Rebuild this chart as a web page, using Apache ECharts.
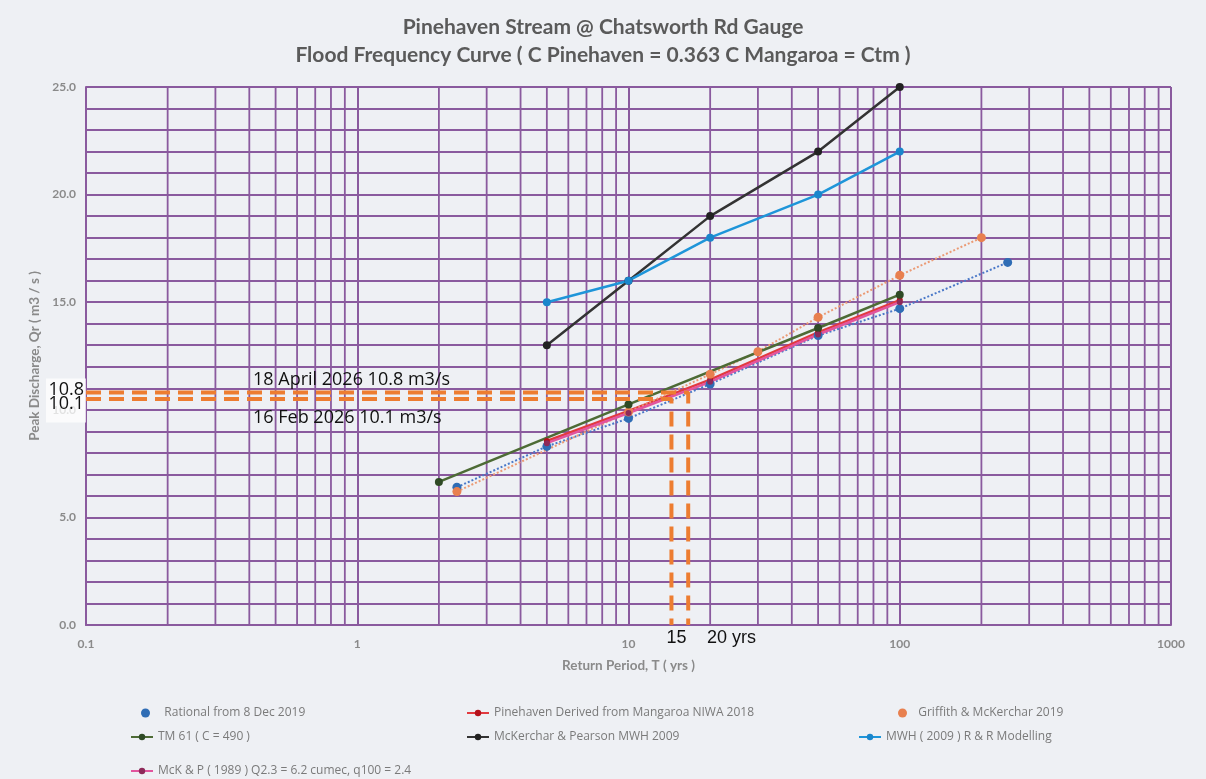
<!DOCTYPE html>
<html><head><meta charset="utf-8">
<script src="https://cdn.jsdelivr.net/npm/echarts@6/dist/echarts.min.js"></script>
<style>html,body{margin:0;padding:0;background:#eef0f4;} #c{width:1206px;height:779px;}</style>
</head><body><div id="c"></div>
<script>
// ---- data ----
const xTickLabels = ['0.1', '1', '10', '100', '1000'];
const yTickLabels = ['0.0', '5.0', '10.0', '15.0', '20.0', '25.0'];
const minorGridT = [0.2,0.3,0.4,0.5,0.6,0.7,0.8,0.9, 2,3,4,5,6,7,8,9, 20,30,40,50,60,70,80,90, 200,300,400,500,600,700,800,900];

const rationalT = [2.33, 5, 10, 20, 50, 100, 250];
const rationalQ = [6.4, 8.3, 9.6, 11.2, 13.45, 14.7, 16.85];

const pinehavenT = [5, 10, 20, 50, 100];
const pinehavenQ = [8.55, 9.95, 11.4, 13.6, 15.1];

const griffithT = [2.33, 10, 20, 30, 50, 100, 200];
const griffithQ = [6.2, 9.9, 11.65, 12.7, 14.3, 16.25, 18.0];

const tm61T = [2, 10, 50, 100];
const tm61Q = [6.65, 10.25, 13.8, 15.35];

const mckPearsonT = [5, 10, 20, 50, 100];
const mckPearsonQ = [13, 16, 19, 22, 25];

const mwhT = [5, 10, 20, 50, 100];
const mwhQ = [15, 16, 18, 20, 22];

const mckP1989T = [5, 10, 20, 50, 100];
const mckP1989Q = [8.45, 9.85, 11.3, 13.5, 15.0];

// annotation (hand-drawn overlay)
const aprilQ = 10.8, aprilT = 16.6;
const febQ = 10.5, febT = 14.4;

const names = {
  rational: 'Rational from 8 Dec 2019',
  pinehaven: 'Pinehaven Derived from Mangaroa NIWA 2018',
  griffith: 'Griffith & McKerchar 2019',
  tm61: 'TM 61 ( C = 490 )',
  mckPearson: 'McKerchar & Pearson MWH 2009',
  mwh: 'MWH ( 2009 ) R & R Modelling',
  mckP1989: 'McK & P ( 1989 ) Q2.3 = 6.2 cumec, q100 = 2.4'
};

const zip = (a, b) => a.map((v, i) => [v, b[i]]);

// ---- chart ----
const chart = echarts.init(document.getElementById('c'), null, {renderer: 'canvas'});
const PURPLE = '#8a5a9e';
const AX = '#8a8a8a';
const FONT = 'Lato';

function lineSeries(name, t, q, lineColor, markColor, opts) {
  return Object.assign({
    name, type: 'line', data: zip(t, q), z: 5, clip: false,
    symbol: 'circle', symbolSize: 8,
    lineStyle: {color: lineColor, width: 2.5},
    itemStyle: {color: markColor},
    emphasis: {disabled: true}
  }, opts || {});
}

const legendText = {color: '#7a7a7a', fontSize: 12, fontFamily: 'Open Sans'};
function lg(name, left, top, dotSpaces) {
  const l = {data: [name], left, top, textStyle: Object.assign({}, legendText), selectedMode: false, padding: 0, itemGap: 0};
  if (dotSpaces) {
    l.icon = 'circle'; l.itemWidth = 9; l.itemHeight = 9;
    const pad = ' '.repeat(dotSpaces);
    l.formatter = n => pad + n;
  } else { l.itemWidth = 22; l.itemHeight = 8; }
  return l;
}

const option = {
  backgroundColor: '#eef0f4',
  animation: false,
  title: {
    text: 'Pinehaven Stream @ Chatsworth Rd Gauge\nFlood Frequency Curve ( C Pinehaven = 0.363 C Mangaroa = Ctm )',
    left: 'center', top: 8,
    textStyle: {fontFamily: FONT, fontWeight: 'bold', fontSize: 21, color: '#5a5a5a', lineHeight: 28}
  },
  grid: {left: 86, right: 35, top: 87, bottom: 154},
  xAxis: {
    type: 'log', logBase: 10, min: 0.1, max: 1000,
    name: 'Return Period, T ( yrs )', nameLocation: 'middle', nameGap: 34,
    nameTextStyle: {color: AX, fontSize: 13.5, fontWeight: 'bold', fontFamily: FONT},
    axisLine: {show: true, lineStyle: {color: PURPLE, width: 2}},
    axisTick: {show: false},
    axisLabel: {
      color: AX, fontSize: 12, fontWeight: 'bold', fontFamily: FONT, margin: 13,
      formatter: v => { const f = xTickLabels.find(s => Math.abs(Number(s) - v) < 1e-9 * Math.max(1, v)); return f || ''; }
    },
    splitLine: {show: true, lineStyle: {color: PURPLE, width: 2}}
  },
  yAxis: {
    type: 'value', min: 0, max: 25, interval: 1,
    name: 'Peak Discharge, Qr ( m3 / s )', nameLocation: 'middle', nameGap: 42, nameRotate: 90,
    nameTextStyle: {color: AX, fontSize: 13.5, fontWeight: 'bold', fontFamily: FONT},
    axisLine: {show: true, lineStyle: {color: PURPLE, width: 2}},
    axisTick: {show: false},
    axisLabel: {
      color: AX, fontSize: 12, fontWeight: 'bold', fontFamily: FONT, margin: 10,
      formatter: v => yTickLabels.find(s => Math.abs(Number(s) - v) < 1e-9) || ''
    },
    splitLine: {show: true, lineStyle: {color: PURPLE, width: 1.8}}
  },
  legend: [
    lg(names.rational, 141, 707, 3),
    lg(names.pinehaven, 466, 707, 0),
    lg(names.griffith, 898, 707, 2),
    lg(names.tm61, 130, 731, 0),
    lg(names.mckPearson, 466, 731, 0),
    lg(names.mwh, 858, 731, 0),
    lg(names.mckP1989, 130, 765, 0)
  ],
  series: [
    {
      name: 'minorGrid', type: 'custom', z: 1, silent: true,
      data: minorGridT.map(t => [t]),
      renderItem: (params, api) => {
        const p0 = api.coord([api.value(0), 0]);
        const p1 = api.coord([api.value(0), 25]);
        return {type: 'line', shape: {x1: p0[0], y1: p0[1], x2: p1[0], y2: p1[1]},
          style: {stroke: PURPLE, lineWidth: 1.8}};
      }
    },
    lineSeries(names.rational, rationalT, rationalQ, '#4a78c8', '#2f6db5',
      {lineStyle: {color: '#4a78c8', width: 2, type: 'dotted'}, symbolSize: 9}),
    lineSeries(names.pinehaven, pinehavenT, pinehavenQ, '#e23a3f', '#b5121b', {symbolSize: 6}),
    lineSeries(names.griffith, griffithT, griffithQ, '#f0a07c', '#e8804f',
      {lineStyle: {color: '#eb9a74', width: 2, type: 'dotted'}, symbolSize: 9}),
    lineSeries(names.tm61, tm61T, tm61Q, '#4d6b35', '#2f4a25'),
    lineSeries(names.mckPearson, mckPearsonT, mckPearsonQ, '#333333', '#222222'),
    lineSeries(names.mwh, mwhT, mwhQ, '#1e95d9', '#1a86cc'),
    lineSeries(names.mckP1989, mckP1989T, mckP1989Q, '#e2559e', '#8e2a5a', {symbolSize: 6}),
    {
      name: 'april', type: 'line', z: 8, silent: true, symbol: 'none', clip: false,
      data: [[0.1, aprilQ], [aprilT, aprilQ], [aprilT, 0]],
      lineStyle: {color: '#ed7d31', width: 4, type: [15, 8], cap: 'butt'}
    },
    {
      name: 'feb', type: 'line', z: 8, silent: true, symbol: 'none', clip: false,
      data: [[0.1, febQ], [febT, febQ], [febT, 0]],
      lineStyle: {color: '#ed7d31', width: 4, type: [15, 8], cap: 'butt'}
    }
  ]
};
chart.setOption(option);

// overlay annotation texts positioned from data coords
const pA = chart.convertToPixel({gridIndex: 0}, [0.1, aprilQ]);
const pF = chart.convertToPixel({gridIndex: 0}, [0.1, febQ]);
const pAx = chart.convertToPixel({gridIndex: 0}, [febT, 0]);
const pBx = chart.convertToPixel({gridIndex: 0}, [aprilT, 0]);
const TF = '18px "Open Sans"';
chart.setOption({
  graphic: [
    {type: 'rect', z: 50, shape: {x: pA[0] - 40, y: pA[1] - 14, width: 40, height: 44}, style: {fill: '#ffffff', opacity: 0.75}},
    {type: 'text', z: 51, style: {text: '10.8', x: pA[0] - 2, y: pA[1] - 3, align: 'right', verticalAlign: 'middle', font: TF, fill: '#111'}},
    {type: 'text', z: 51, style: {text: '10.1', x: pA[0] - 2, y: pF[1] + 5, align: 'right', verticalAlign: 'middle', font: TF, fill: '#111'}},
    {type: 'text', z: 51, style: {text: '18 April 2026 10.8 m3/s', x: 253, y: pA[1] - 13, align: 'left', verticalAlign: 'middle', font: TF, fill: '#111'}},
    {type: 'text', z: 51, style: {text: '16 Feb 2026 10.1 m3/s', x: 253, y: pF[1] + 19, align: 'left', verticalAlign: 'middle', font: TF, fill: '#111'}},
    {type: 'text', z: 51, style: {text: '15', x: pAx[0] + 5, y: pAx[1] + 13, align: 'center', verticalAlign: 'middle', font: '18px "Liberation Sans"', fill: '#111'}},
    {type: 'text', z: 51, style: {text: '20 yrs', x: 707, y: pBx[1] + 13, align: 'left', verticalAlign: 'middle', font: '18px "Liberation Sans"', fill: '#111'}}
  ]
});
</script>
</body></html>
